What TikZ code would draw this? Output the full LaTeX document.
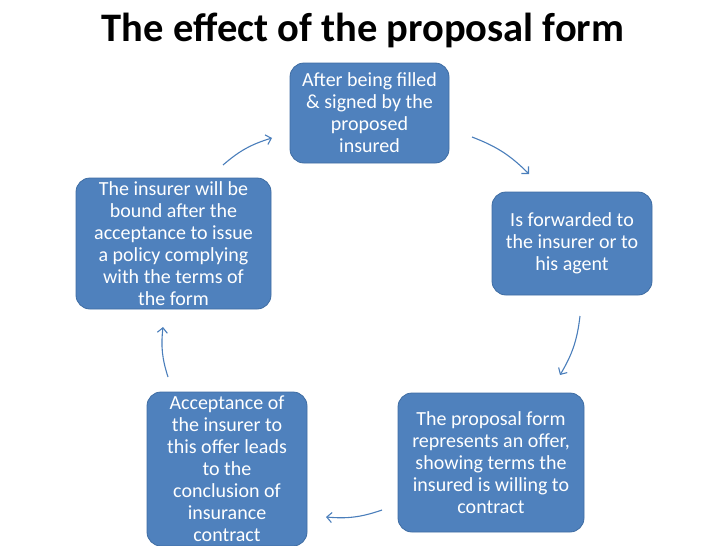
\documentclass[tikz,border=0pt]{standalone}
\usepackage{fontspec}
\setmainfont{Carlito}
\usetikzlibrary{arrows.meta}
\definecolor{boxblue}{HTML}{4F81BD}
\definecolor{boxedge}{HTML}{3F6DA3}
\definecolor{arrblue}{HTML}{4A7EBB}
\begin{document}
\begin{tikzpicture}[x=1pt,y=-1pt,
  stepbox/.style={draw=boxedge, line width=0.8pt, fill=boxblue, rounded corners=14pt,
    text=white, align=center, font=\fontsize{20}{22}\selectfont, inner sep=0pt},
  cyc/.style={draw=arrblue, line width=1.1pt, -{Straight Barb[length=5pt,width=10pt]}, bend left=12}]
\useasboundingbox (0,0) rectangle (728,546);
\clip (0,0) rectangle (728,546);
\node[font=\fontsize{40.5}{44}\selectfont\bfseries] (title) at (363,30) {The effect of the proposal form};
\node[stepbox, minimum width=159pt, minimum height=100pt] (b1) at (369.5,113)
  {After being filled\\ \& signed by the\\ proposed\\ insured};
\node[stepbox, minimum width=160pt, minimum height=103pt] (b2) at (572,243.5)
  {Is forwarded to\\ the insurer or to\\ his agent};
\node[stepbox, minimum width=186pt, minimum height=139pt] (b3) at (491,462.5)
  {The proposal form\\ represents an offer,\\ showing terms the\\ insured is willing to\\ contract};
\node[stepbox, minimum width=160pt, minimum height=154pt] (b4) at (227,469)
  {Acceptance of\\ the insurer to\\ this offer leads\\ to the\\ conclusion of\\ insurance\\ contract};
\node[stepbox, minimum width=195pt, minimum height=131pt] (b5) at (173.5,243.5)
  {The insurer will be\\ bound after the\\ acceptance to issue\\ a policy complying\\ with the terms of\\ the form};
\coordinate (a1s) at (223,165); \coordinate (a1e) at (272,138);
\coordinate (a2s) at (472,137); \coordinate (a2e) at (529,174);
\coordinate (a3s) at (580,316); \coordinate (a3e) at (560,375);
\coordinate (a4s) at (382,510); \coordinate (a4e) at (326,517);
\coordinate (a5s) at (168,377); \coordinate (a5e) at (163,327);
\draw[cyc] (a1s) to (a1e);
\draw[cyc] (a2s) to (a2e);
\draw[cyc] (a3s) to (a3e);
\draw[cyc] (a4s) to (a4e);
\draw[cyc] (a5s) to (a5e);
\end{tikzpicture}
\end{document}
